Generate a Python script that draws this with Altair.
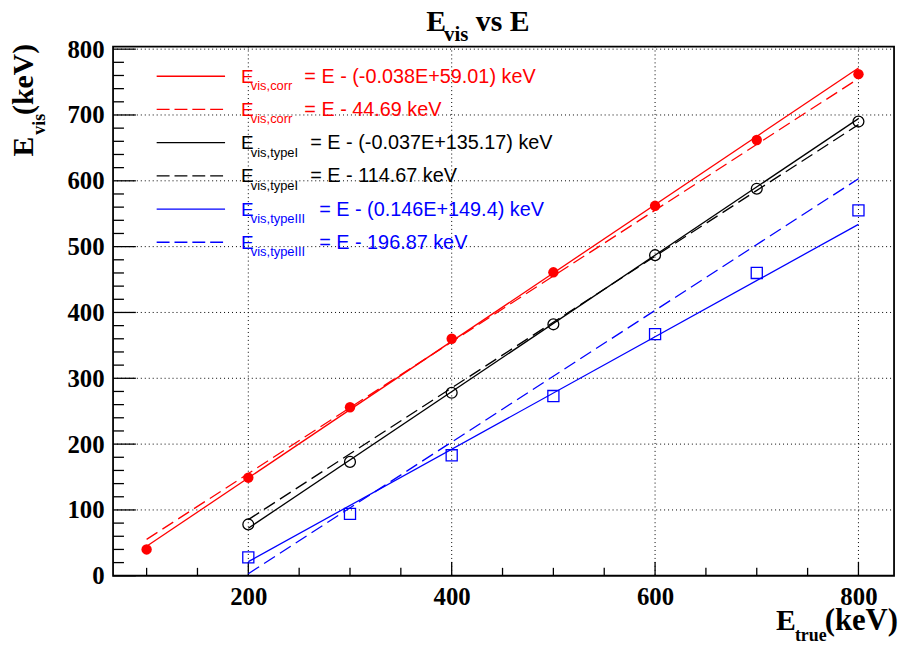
import altair as alt
import pandas as pd

# ---------------- data ----------------
E_corr = [100, 200, 300, 400, 500, 600, 700, 800]
Evis_corr = [40, 149, 256, 360, 461, 562, 662, 762]
E_type = [200, 300, 400, 500, 600, 700, 800]
Evis_typeI = [78, 173, 278, 382, 487, 588, 690]
Evis_typeIII = [28, 94, 183, 273, 367, 460, 555]

# fit lines as given in the legend:  E_vis = E - (a*E + b)
fit_a = [-0.038, 0.0, -0.037, 0.0, 0.146, 0.0]
fit_b = [59.01, 44.69, 135.17, 114.67, 149.4, 196.87]
fit_lo = [100, 100, 200, 200, 200, 200]
fit_hi = [800, 800, 800, 800, 800, 800]

legend_sub = ["vis,corr", "vis,corr", "vis,typeI", "vis,typeI", "vis,typeIII", "vis,typeIII"]
legend_rest = ["= E - (-0.038E+59.01) keV", "= E - 44.69 keV",
               "= E - (-0.037E+135.17) keV", "= E - 114.67 keV",
               "= E - (0.146E+149.4) keV", "= E - 196.87 keV"]

x_major = [200, 400, 600, 800]
x_minor = [100, 150, 250, 300, 350, 450, 500, 550, 650, 700, 750]
y_major = [0, 100, 200, 300, 400, 500, 600, 700, 800]
y_minor = [v for v in range(20, 800, 20) if v % 100 != 0]

# ---------------- layout ----------------
W, H = 788, 534
XDOM = [67, 835]
YDOM = [0, 804]
RED, BLACK, BLUE = "#ff0000", "#000000", "#0000ff"
colors = [RED, RED, BLACK, BLACK, BLUE, BLUE]
dashed = [False, True, False, True, False, True]
SERIF = "Liberation Serif"
SANS = "Liberation Sans"

xs = alt.Scale(domain=XDOM, nice=False, zero=False)
ys = alt.Scale(domain=YDOM, nice=False, zero=False)

xaxis = alt.Axis(values=x_major, ticks=False, tickSize=0, domain=False, grid=False,
                 labelFont=SERIF, labelFontWeight="bold", labelFontSize=25,
                 labelColor="black", labelPadding=9, title=None, format="d")
yaxis = alt.Axis(values=y_major, ticks=False, tickSize=0, domain=False, grid=False,
                 labelFont=SERIF, labelFontWeight="bold", labelFontSize=25,
                 labelColor="black", labelPadding=9, title=None, format="d",
                 labelBaseline="middle")


def X(f):
    return alt.X(f, type="quantitative", scale=xs, axis=xaxis)


def Y(f):
    return alt.Y(f, type="quantitative", scale=ys, axis=yaxis)


layers = []

pts_corr = pd.DataFrame({"E": E_corr, "V": Evis_corr})
pts_I = pd.DataFrame({"E": E_type, "V": Evis_typeI})
pts_III = pd.DataFrame({"E": E_type, "V": Evis_typeIII})

# grid (dotted)
gx = pd.DataFrame({"E": x_major})
gy = pd.DataFrame({"V": y_major[1:]})
layers.append(alt.Chart(gx).mark_rule(color="black", strokeWidth=1, strokeDash=[1, 3]).encode(
    x=X("E"), y=alt.value(0), y2=alt.value(H)))
layers.append(alt.Chart(gy).mark_rule(color="black", strokeWidth=1, strokeDash=[1, 3]).encode(
    y=Y("V"), x=alt.value(0), x2=alt.value(W)))

# inward ticks
layers.append(alt.Chart(pd.DataFrame({"E": x_major})).mark_rule(color="black", strokeWidth=1.3).encode(
    x=X("E"), y=alt.value(H), y2=alt.value(H - 14)))
layers.append(alt.Chart(pd.DataFrame({"E": x_minor})).mark_rule(color="black", strokeWidth=1.3).encode(
    x=X("E"), y=alt.value(H), y2=alt.value(H - 8)))
layers.append(alt.Chart(pd.DataFrame({"V": y_major})).mark_rule(color="black", strokeWidth=1.3).encode(
    y=Y("V"), x=alt.value(0), x2=alt.value(23)))
layers.append(alt.Chart(pd.DataFrame({"V": y_minor})).mark_rule(color="black", strokeWidth=1.3).encode(
    y=Y("V"), x=alt.value(0), x2=alt.value(11)))

# fit lines
for i in range(6):
    e = [fit_lo[i], fit_hi[i]]
    v = [x - (fit_a[i] * x + fit_b[i]) for x in e]
    df = pd.DataFrame({"E": e, "V": v})
    kw = dict(color=colors[i], strokeWidth=1.3)
    if dashed[i]:
        kw["strokeDash"] = [13, 6]
    layers.append(alt.Chart(df).mark_line(**kw).encode(x=X("E"), y=Y("V")))

# points
layers.append(alt.Chart(pts_corr).mark_point(shape="circle", filled=True, size=110, color=RED, opacity=1).encode(
    x=X("E"), y=Y("V")))
layers.append(alt.Chart(pts_I).mark_point(shape="circle", filled=False, size=120, color=BLACK,
                                           strokeWidth=1.3, opacity=1).encode(x=X("E"), y=Y("V")))
layers.append(alt.Chart(pts_III).mark_point(shape="square", filled=False, size=125, color=BLUE,
                                             strokeWidth=1.3, opacity=1).encode(x=X("E"), y=Y("V")))


def label(txt, x, y, size, color="black", font=SANS, weight="normal", angle=0, align="left"):
    return alt.Chart(pd.DataFrame({"t": [txt]})).mark_text(
        font=font, fontSize=size, fontWeight=weight, color=color, align=align,
        baseline="alphabetic", angle=angle).encode(text="t:N", x=alt.value(x), y=alt.value(y))


# legend
main_x = [193, 193, 199, 199, 208, 208]
for i in range(6):
    yl = 30 + 33.5 * i
    kw = dict(color=colors[i], strokeWidth=1.3)
    if dashed[i]:
        kw["strokeDash"] = [13, 5]
    layers.append(alt.Chart(pd.DataFrame({"k": [i]})).mark_rule(**kw).encode(
        x=alt.value(44), x2=alt.value(113), y=alt.value(yl)))
    layers.append(label("E", 129, yl + 6.5, 19, colors[i]))
    layers.append(label(legend_sub[i], 139, yl + 14, 13, colors[i]))
    layers.append(label(legend_rest[i], main_x[i], yl + 6.5, 20, colors[i]))

# title
layers.append(label("E", 316, -16, 30, font=SERIF, weight="bold"))
layers.append(label("vis", 334, -6, 21, font=SERIF, weight="bold"))
layers.append(label("vs E", 366, -16, 30, font=SERIF, weight="bold"))

# y title (rotated)
layers.append(label("E", -81, 111, 30, font=SERIF, weight="bold", angle=270))
layers.append(label("vis", -69, 89, 18, font=SERIF, weight="bold", angle=270))
layers.append(label("(keV)", -81, 69, 30, font=SERIF, weight="bold", angle=270))

# x title
layers.append(label("E", 669, 589, 30, font=SERIF, weight="bold"))
layers.append(label("true", 688, 600, 18, font=SERIF, weight="bold"))
layers.append(label("(keV)", 718, 589, 31, font=SERIF, weight="bold"))

chart = alt.layer(*layers).properties(
    width=W, height=H,
    autosize=alt.AutoSizeParams(type="none"),
    padding={"left": 106, "top": 36, "right": 5, "bottom": 68},
    background="white",
).configure_view(stroke="black", strokeWidth=1.8)

chart.save("out.html", embed_options={"renderer": "svg", "actions": False})
